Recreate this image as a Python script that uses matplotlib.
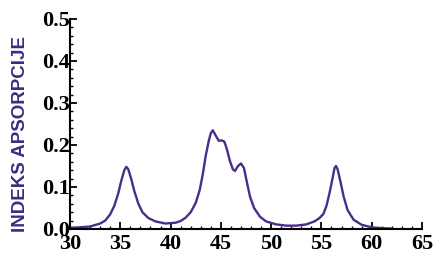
import matplotlib
matplotlib.use("Agg")
import matplotlib.pyplot as plt
from matplotlib.ticker import MultipleLocator

wavelength = [30.0, 31.0, 32.0, 33.0, 33.5, 34.0, 34.4, 34.8, 35.1, 35.4, 35.6, 35.8,
              36.1, 36.4, 36.8, 37.2, 37.8, 38.5, 39.5, 40.5, 41.0, 41.5, 42.0, 42.5,
              42.9, 43.2, 43.5, 43.8, 44.0, 44.2, 44.5, 44.8, 45.1, 45.35, 45.6, 45.9,
              46.2, 46.4, 46.7, 47.0, 47.3, 47.6, 47.9, 48.3, 48.9, 49.5, 50.5, 51.5,
              52.5, 53.5, 54.3, 54.8, 55.2, 55.5, 55.8, 56.1, 56.3, 56.45, 56.6, 56.9,
              57.2, 57.6, 58.2, 59.0, 60.0, 61.0, 62.0]
absorption = [0.003, 0.004, 0.006, 0.013, 0.020, 0.035, 0.055, 0.085, 0.115, 0.140, 0.148, 0.142,
              0.118, 0.090, 0.060, 0.040, 0.026, 0.018, 0.013, 0.015, 0.019, 0.027, 0.040, 0.062,
              0.093, 0.130, 0.175, 0.210, 0.228, 0.235, 0.222, 0.210, 0.211, 0.208, 0.190, 0.162,
              0.142, 0.138, 0.150, 0.156, 0.145, 0.110, 0.077, 0.050, 0.029, 0.018, 0.011, 0.008,
              0.008, 0.011, 0.018, 0.026, 0.036, 0.055, 0.085, 0.120, 0.145, 0.150, 0.143, 0.112,
              0.078, 0.045, 0.022, 0.010, 0.004, 0.002, 0.001]

x_ticks = [30, 35, 40, 45, 50, 55, 60, 65]
y_ticks = [0.0, 0.1, 0.2, 0.3, 0.4, 0.5]
y_label = "INDEKS APSORPCIJE"

line_color = "#4a2c8c"
label_color = "#3f2c82"

fig = plt.figure(figsize=(4.34, 2.58), dpi=100)
ax = fig.add_axes([70 / 434, 29 / 258, 352 / 434, 210 / 258])
ax.plot(wavelength, absorption, color=line_color, lw=1.7, solid_joinstyle="round")

ax.set_xlim(30, 65)
ax.set_ylim(0, 0.5)
ax.set_xticks(x_ticks)
ax.set_yticks(y_ticks)
ax.set_xticklabels([str(t) for t in x_ticks])
ax.set_yticklabels([f"{t:.1f}" for t in y_ticks])
ax.xaxis.set_minor_locator(MultipleLocator(1))
ax.yaxis.set_minor_locator(MultipleLocator(0.02))

for s in ["top", "right"]:
    ax.spines[s].set_visible(False)
for s in ["left", "bottom"]:
    ax.spines[s].set_linewidth(1.5)
    ax.spines[s].set_color("black")

ax.tick_params(which="major", direction="in", length=5, width=1.3, color="black")
ax.tick_params(which="minor", direction="in", length=2.5, width=1.0, color="black")
for lab in ax.get_xticklabels() + ax.get_yticklabels():
    lab.set_fontfamily("Liberation Serif")
    lab.set_fontweight("bold")
    lab.set_fontsize(16)
ax.tick_params(axis="x", pad=3.5)
ax.tick_params(axis="y", pad=0)

fig.text(21 / 434, 1 - 134 / 258, y_label, rotation=90, ha="center", va="center",
         fontfamily="Liberation Sans", fontweight="bold", fontsize=13.5, color=label_color)

fig.savefig("out.png", dpi=100)
